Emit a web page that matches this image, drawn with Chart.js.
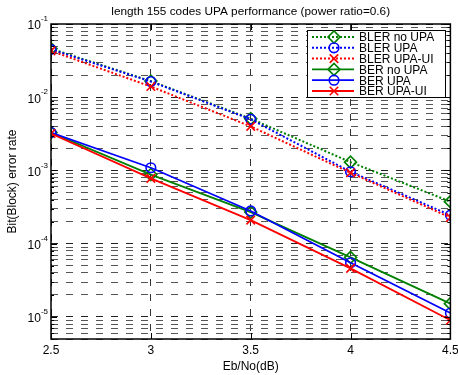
<!DOCTYPE html>
<html>
<head>
<meta charset="utf-8">
<script src="https://cdn.jsdelivr.net/npm/chart.js@4/dist/chart.umd.min.js"></script>
<style>
  html, body { margin: 0; padding: 0; background: #fff; }
  #wrap { width: 458px; height: 375px; }
</style>
</head>
<body>
<div id="wrap"><canvas id="chartUPA"></canvas></div>
<script>
// Eb/No points (dB)
const ebno = [2.5, 3, 3.5, 4, 4.5];

// block error rates
const blerNoUpa = [0.046, 0.0166, 0.0051, 0.0013, 0.000375];
const blerUpa = [0.045, 0.0164, 0.0050, 0.00096, 0.000245];
const blerUpaUi = [0.043, 0.014, 0.0040, 0.00093, 0.000228];

// bit error rates
const berNoUpa = [0.0033, 0.00088, 0.00027, 0.000065, 0.0000152];
const berUpa = [0.0033, 0.00109, 0.00028, 0.000055, 0.0000113];
const berUpaUi = [0.0032, 0.00078, 0.00021, 0.000046, 0.0000090];

const seriesNames = ["BLER no UPA", "BLER UPA", "BLER UPA-UI", "BER no UPA", "BER UPA", "BER UPA-UI"];
const xTicks = [2.5, 3, 3.5, 4, 4.5];
const yDecades = [-5, -4, -3, -2, -1];

const titleText = "length 155 codes UPA performance (power ratio=0.6)";
const xTitle = "Eb/No(dB)";
const yTitle = "Bit(Block) error rate";

const FONT = "Arial, 'Liberation Sans', Helvetica, sans-serif";
const GREEN = "#008000", BLUE = "#0000ff", RED = "#ff0000";

function mkSet(label, vals, color, style, dotted, radius) {
  return {
    label: label,
    data: ebno.map((x, i) => ({ x: x, y: vals[i] })),
    borderColor: color,
    borderWidth: dotted ? 2 : 1.8,
    borderDash: dotted ? [2, 2] : [],
    pointStyle: style,
    pointRadius: radius,
    pointHoverRadius: radius,
    pointBorderColor: color,
    pointBackgroundColor: "rgba(0,0,0,0)",
    pointBorderWidth: 1.6,
    fill: false,
    tension: 0
  };
}

const datasets = [
  mkSet(seriesNames[0], blerNoUpa, GREEN, "rectRot", true, 6),
  mkSet(seriesNames[1], blerUpa, BLUE, "circle", true, 4.8),
  mkSet(seriesNames[2], blerUpaUi, RED, "crossRot", true, 6),
  mkSet(seriesNames[3], berNoUpa, GREEN, "rectRot", false, 6),
  mkSet(seriesNames[4], berUpa, BLUE, "circle", false, 4.8),
  mkSet(seriesNames[5], berUpaUi, RED, "crossRot", false, 6)
];
// later series sit on top
datasets.forEach((d, i) => { d.order = datasets.length - i; });

// log ticks at 1..9 of every decade, used for grid and tick marks
function logTicks(min, max) {
  const out = [];
  for (let e = -6; e <= 0; e++) {
    for (let m = 1; m <= 9; m++) {
      const v = m * Math.pow(10, e);
      if (v >= min * 0.999 && v <= max * 1.001) out.push({ value: v, major: m === 1 });
    }
  }
  return out;
}

// axes box, inner tick marks, labels, title and legend
const frame = {
  id: "frame",
  afterDatasetsDraw(chart) {
    const { ctx, chartArea: a, scales } = chart;
    const xs = scales.x, ys = scales.y;
    ctx.save();
    ctx.strokeStyle = "#000";
    ctx.lineWidth = 1;
    ctx.beginPath();
    ys.ticks.forEach(t => {
      const y = Math.round(ys.getPixelForValue(t.value)) + 0.5;
      const len = t.major ? 6 : 3;
      ctx.moveTo(a.left, y); ctx.lineTo(a.left + len, y);
      ctx.moveTo(a.right, y); ctx.lineTo(a.right - len, y);
    });
    xTicks.forEach(v => {
      const x = Math.round(xs.getPixelForValue(v)) + 0.5;
      ctx.moveTo(x, a.bottom); ctx.lineTo(x, a.bottom - 6);
      ctx.moveTo(x, a.top); ctx.lineTo(x, a.top + 6);
    });
    ctx.stroke();
    ctx.lineWidth = 1.5;
    ctx.strokeRect(a.left, a.top, a.right - a.left, a.bottom - a.top);
    ctx.restore();
  },
  afterDraw(chart) {
    const { ctx, chartArea: a, scales } = chart;
    const xs = scales.x, ys = scales.y;
    ctx.save();
    ctx.fillStyle = "#000";

    // x tick labels
    ctx.font = "12px " + FONT;
    ctx.textAlign = "center";
    ctx.textBaseline = "middle";
    xTicks.forEach(v => ctx.fillText(String(v), xs.getPixelForValue(v), a.bottom + 12));

    // y tick labels as 10 with a raised exponent
    yDecades.forEach(e => {
      const y = ys.getPixelForValue(Math.pow(10, e));
      const exp = String(e);
      ctx.font = "8px " + FONT;
      const ew = ctx.measureText(exp).width;
      ctx.textAlign = "left";
      ctx.fillText(exp, a.left - 3 - ew, y - 5);
      ctx.font = "12px " + FONT;
      ctx.textAlign = "right";
      ctx.fillText("10", a.left - 3 - ew, y + 2);
    });

    // titles
    const cx = (a.left + a.right) / 2;
    ctx.textAlign = "center";
    ctx.font = "11.8px " + FONT;
    ctx.fillText(titleText, cx, 12);
    ctx.font = "12px " + FONT;
    ctx.fillText(xTitle, cx, a.bottom + 28);
    ctx.save();
    ctx.translate(13, (a.top + a.bottom) / 2);
    ctx.rotate(-Math.PI / 2);
    ctx.fillText(yTitle, 0, 0);
    ctx.restore();

    // legend box in the upper right corner
    const bx = 307, by = 30, bw = 138, bh = 67, row = 10.8;
    ctx.fillStyle = "#fff";
    ctx.fillRect(bx, by, bw, bh);
    ctx.strokeStyle = "#000";
    ctx.lineWidth = 1;
    ctx.strokeRect(bx + 0.5, by + 0.5, bw, bh);
    chart.data.datasets.forEach((d, i) => {
      const y = by + 7 + i * row;
      ctx.strokeStyle = d.borderColor;
      ctx.lineWidth = d.borderWidth;
      ctx.setLineDash(d.borderDash);
      ctx.beginPath();
      ctx.moveTo(bx + 5, y); ctx.lineTo(bx + 47, y);
      ctx.stroke();
      ctx.setLineDash([]);
      ctx.lineWidth = d.pointBorderWidth;
      ctx.fillStyle = "rgba(0,0,0,0)";
      Chart.helpers.drawPoint(ctx, {
        pointStyle: d.pointStyle, radius: d.pointRadius, rotation: 0, borderWidth: d.pointBorderWidth
      }, bx + 27, y);
      ctx.fillStyle = "#000";
      ctx.font = "12px " + FONT;
      ctx.textAlign = "left";
      ctx.textBaseline = "middle";
      ctx.fillText(d.label, bx + 52, y + 1);
    });
    ctx.restore();
  }
};

new Chart(document.getElementById("chartUPA"), {
  type: "line",
  data: { datasets: datasets },
  options: {
    responsive: true,
    maintainAspectRatio: false,
    animation: false,
    events: [],
    layout: { padding: { top: 24, right: 6, left: 0, bottom: 0 } },
    plugins: {
      legend: { display: false },
      title: { display: false },
      tooltip: { enabled: false }
    },
    scales: {
      x: {
        type: "linear",
        min: 2.5,
        max: 4.5,
        afterBuildTicks: s => { s.ticks = xTicks.map(v => ({ value: v })); },
        afterFit: s => { s.height = 36; },
        ticks: { display: false },
        grid: { color: "#333", lineWidth: 1, drawTicks: false },
        border: { display: false, dash: [7, 8] }
      },
      y: {
        type: "logarithmic",
        min: 5e-6,
        max: 0.1,
        afterBuildTicks: s => { s.ticks = logTicks(5e-6, 0.1); },
        afterFit: s => { s.width = 51; },
        ticks: { display: false },
        grid: {
          color: ctx => (ctx.tick && ctx.tick.major ? "#222" : "#555"),
          lineWidth: 1,
          drawTicks: false
        },
        border: { display: false, dash: [7, 8] }
      }
    }
  },
  plugins: [frame]
});
</script>
</body>
</html>
